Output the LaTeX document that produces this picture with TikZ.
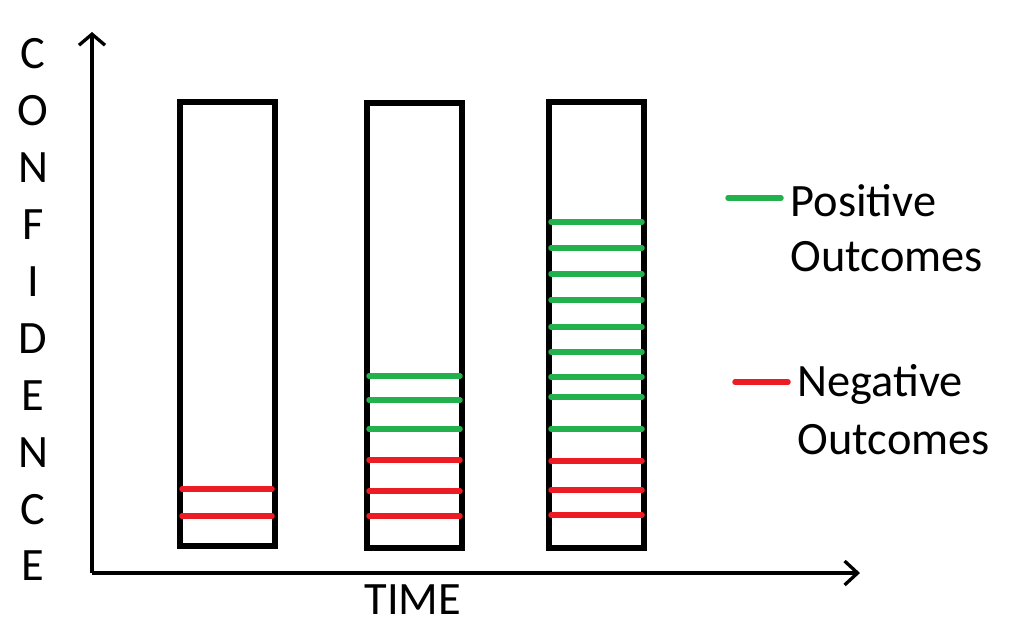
\documentclass[tikz,border=0pt]{standalone}
\usepackage{fontspec}
\setmainfont{Carlito}
\usetikzlibrary{arrows.meta}
\definecolor{posgreen}{RGB}{34,177,76}
\definecolor{negred}{RGB}{237,28,36}
\tikzset{
  axis/.style={line width=0.33mm},
  bar/.style={line width=0.65mm},
  posline/.style={posgreen, line width=0.55mm, line cap=round},
  negline/.style={negred, line width=0.55mm, line cap=round},
  lbl/.style={font=\fontsize{13.2}{16}\selectfont, inner sep=0pt}
}
\begin{document}
\begin{tikzpicture}[x=0.1mm,y=-0.1mm]
\useasboundingbox (0,0) rectangle (1024,628);
\coordinate (origin) at (92,573);
\coordinate (ytop) at (92,32);
\coordinate (xend) at (860,573);
\draw[axis, -{Straight Barb[length=1.1mm,width=2.6mm]}] (origin) -- (ytop);
\draw[axis, -{Straight Barb[length=1.3mm,width=2.4mm]}] (origin) -- (xend);
% vertical label
\foreach \c [count=\i from 0] in {C,O,N,F,I,D,E,N,C,E} {
\node[lbl] (conf\i) at (33,54+56.9*\i) {\c};
};
\node[lbl] (time) at (413,600) {TIME};
% bars
\draw[bar] (180,102) rectangle (275,546);
\draw[bar] (367,103) rectangle (462,548);
\draw[bar] (549,102) rectangle (644,548);
% first bar
\foreach \y in {489,516} {
\draw[negline] (182,\y) -- (272,\y);
};
% second bar
\foreach \y in {376,400,429} {
\draw[posline] (369,\y) -- (460,\y);
};
\foreach \y in {460,491,516} {
\draw[negline] (369,\y) -- (460,\y);
};
% third bar
\foreach \y in {222,248,274,300,327,352,377,397,429} {
\draw[posline] (551,\y) -- (642,\y);
};
\foreach \y in {461,490,515} {
\draw[negline] (551,\y) -- (642,\y);
};
% legend
\draw[posline] (728,198) -- (781,198);
\node[lbl, anchor=west] (posa) at (790,201) {Positive};
\node[lbl, anchor=west] (posb) at (790,257) {Outcomes};
\draw[negline] (735,382) -- (788,382);
\node[lbl, anchor=west] (nega) at (797,384) {Negative};
\node[lbl, anchor=west] (negb) at (797,440) {Outcomes};
\end{tikzpicture}
\end{document}
